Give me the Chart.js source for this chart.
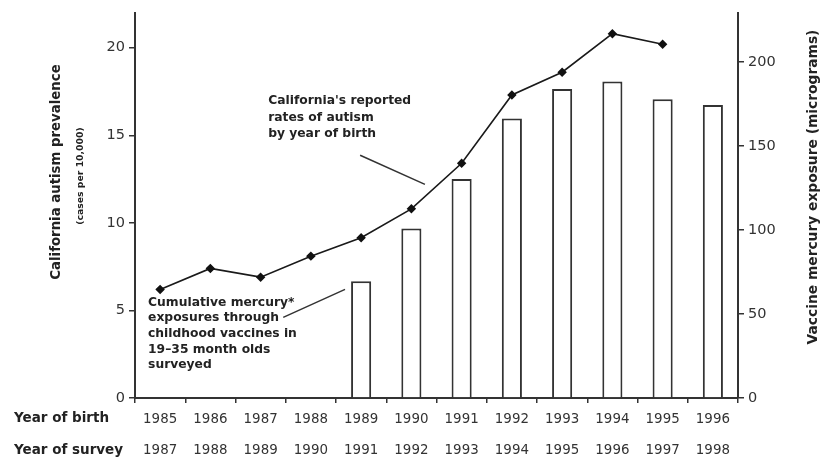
<!DOCTYPE html>
<html>
<head>
<meta charset="utf-8">
<script src="https://cdn.jsdelivr.net/npm/chart.js@4/dist/chart.umd.min.js"></script>
<style>
  html, body { margin: 0; padding: 0; background: #fff; }
  #wrap { width: 826px; height: 460px; }
</style>
</head>
<body>
<div id="wrap"><canvas id="c" width="826" height="460"></canvas></div>
<script>
// data
var birthYears = ['1985', '1986', '1987', '1988', '1989', '1990', '1991', '1992', '1993', '1994', '1995', '1996'];
var surveyYears = ['1987', '1988', '1989', '1990', '1991', '1992', '1993', '1994', '1995', '1996', '1997', '1998'];
var autismRate = [6.2, 7.4, 6.9, 8.1, 9.15, 10.8, 13.4, 17.3, 18.6, 20.8, 20.2, null];
var mercuryExposure = [null, null, null, null, 69.5, 101, 130.5, 166.5, 184, 188.5, 178, 174.5];
var leftTicks = [0, 5, 10, 15, 20];
var rightTicks = [0, 50, 100, 150, 200];

var FONT = '"DejaVu Sans", Verdana, sans-serif';
var INK = '#222';
var AXIS = '#333';

var textPlugin = {
    id: 'figureText',
    afterDraw: function(chart) {
        var ctx = chart.ctx;
        var x = chart.scales.x, y = chart.scales.y;
        var px = function(i) { return x.getPixelForValue(i); };
        var py = function(v) { return y.getPixelForValue(v); };
        ctx.save();
        ctx.fillStyle = INK;
        ctx.strokeStyle = AXIS;

        // left axis titles
        ctx.save();
        ctx.translate(57, 172);
        ctx.rotate(-Math.PI / 2);
        ctx.textAlign = 'center';
        ctx.textBaseline = 'middle';
        ctx.font = 'bold 13.3px ' + FONT;
        ctx.fillText('California autism prevalence', 0, 0);
        ctx.restore();

        ctx.save();
        ctx.translate(81, 176);
        ctx.rotate(-Math.PI / 2);
        ctx.textAlign = 'center';
        ctx.textBaseline = 'middle';
        ctx.font = 'bold 9.3px ' + FONT;
        ctx.fillText('(cases per 10,000)', 0, 0);
        ctx.restore();

        // right axis title
        ctx.save();
        ctx.translate(813, 187);
        ctx.rotate(-Math.PI / 2);
        ctx.textAlign = 'center';
        ctx.textBaseline = 'middle';
        ctx.font = 'bold 13.8px ' + FONT;
        ctx.fillText('Vaccine mercury exposure (micrograms)', 0, 0);
        ctx.restore();

        // row labels under the axis
        ctx.font = 'bold 13.5px ' + FONT;
        ctx.textAlign = 'left';
        ctx.textBaseline = 'middle';
        ctx.fillText('Year of birth', 14, 418);
        ctx.fillText('Year of survey', 14, 450);

        // annotations
        ctx.font = 'bold 12.3px ' + FONT;
        var t1 = ["California's reported", 'rates of autism', 'by year of birth'];
        t1.forEach(function(s, k) { ctx.fillText(s, px(2.15), py(16.95) + k * 16.5); });
        var t2 = ['Cumulative mercury*', 'exposures through', 'childhood vaccines in', '19\u201335 month olds', 'surveyed'];
        t2.forEach(function(s, k) { ctx.fillText(s, px(-0.24), py(5.45) + k * 15.6); });

        ctx.lineWidth = 1.5;
        ctx.beginPath();
        ctx.moveTo(px(3.98), py(13.86));
        ctx.lineTo(px(5.27), py(12.2));
        ctx.moveTo(px(2.45), py(4.6));
        ctx.lineTo(px(3.68), py(6.2));
        ctx.stroke();
        ctx.restore();
    }
};

var ctx = document.getElementById('c').getContext('2d');
var chart = new Chart(ctx, {
    type: 'bar',
    data: {
        labels: birthYears,
        datasets: [
            {
                type: 'line',
                label: 'Autism rate',
                data: autismRate,
                yAxisID: 'y',
                xAxisID: 'x',
                borderColor: '#1a1a1a',
                borderWidth: 1.6,
                pointBackgroundColor: '#111',
                pointBorderColor: '#111',
                pointStyle: 'rectRot',
                pointRadius: 3.6,
                spanGaps: false,
                tension: 0,
                order: 0
            },
            {
                type: 'bar',
                label: 'Mercury exposure',
                data: mercuryExposure,
                yAxisID: 'y2',
                xAxisID: 'x',
                backgroundColor: '#fff',
                borderColor: AXIS,
                borderWidth: 2,
                borderSkipped: 'bottom',
                categoryPercentage: 1,
                barPercentage: 0.4,
                order: 1
            }
        ]
    },
    options: {
        responsive: false,
        animation: false,
        layout: { padding: { top: 12, left: 0, right: 0, bottom: 0 } },
        plugins: { legend: { display: false }, tooltip: { enabled: false } },
        scales: {
            x: {
                type: 'category',
                position: 'bottom',
                offset: true,
                grid: { offset: true, drawOnChartArea: false, tickLength: 5, color: AXIS, lineWidth: 1.5 },
                border: { color: AXIS, width: 2 },
                ticks: { color: AXIS, font: { family: FONT, size: 13.4 }, padding: 8, maxRotation: 0 },
                afterFit: function(s) { s.height = 32; }
            },
            x2: {
                type: 'category',
                position: 'bottom',
                labels: surveyYears,
                offset: true,
                grid: { display: false },
                border: { display: false },
                ticks: { color: AXIS, font: { family: FONT, size: 13.4 }, padding: 4, maxRotation: 0 },
                afterFit: function(s) { s.height = 30; }
            },
            y: {
                position: 'left',
                min: 0,
                max: 22,
                afterBuildTicks: function(s) { s.ticks = leftTicks.map(function(v) { return { value: v }; }); },
                grid: { drawOnChartArea: false, tickLength: 6, color: AXIS, lineWidth: 1.5 },
                border: { color: AXIS, width: 2 },
                ticks: { color: AXIS, font: { family: FONT, size: 14.5 }, padding: 4 },
                afterFit: function(s) { s.width = 135; }
            },
            y2: {
                position: 'right',
                min: 0,
                max: 229.5,
                afterBuildTicks: function(s) { s.ticks = rightTicks.map(function(v) { return { value: v }; }); },
                grid: { drawOnChartArea: false, tickLength: 6, color: AXIS, lineWidth: 1.5 },
                border: { color: AXIS, width: 2 },
                ticks: { color: AXIS, font: { family: FONT, size: 14.5 }, padding: 4 },
                afterFit: function(s) { s.width = 88; }
            }
        }
    },
    plugins: [textPlugin]
});
</script>
</body>
</html>
